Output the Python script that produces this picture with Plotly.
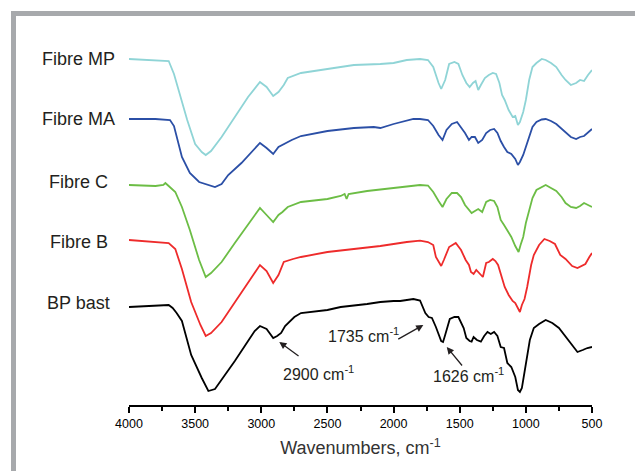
import plotly.graph_objects as go

# Wavenumbers (cm-1) and relative transmittance (arbitrary, offset)
wn_bp = [4000,3850,3700,3670,3640,3600,3530,3450,3400,3350,3300,3200,3100,3050,3010,2960,2910,2880,2850,2820,2750,2700,2500,2400,2200,2100,2000,1950,1850,1800,1760,1735,1710,1680,1640,1626,1610,1575,1540,1510,1470,1450,1425,1410,1395,1370,1340,1315,1290,1265,1240,1215,1190,1165,1140,1110,1080,1060,1045,1030,1010,995,970,940,900,850,800,750,700,650,610,570,535,500]
t_bp = [98,99,100,97,92,84,50,27,14,16,25,44,64,74,79,76,67,69,72,79,88,92,95,98,101,103,104,104,106,104.5,92,88,87,78,64,63,70,86,88,88,77,67,64,63.3,68,65,63.3,69,73,71,73,69,58,57,42,38,28,15,13,17,33,45,65,77,81,85,82,77,68,59,53,55,57,58]

wn_b = [4000,3800,3700,3650,3600,3530,3460,3420,3380,3300,3200,3100,3010,2960,2910,2870,2830,2760,2700,2500,2300,2100,1900,1800,1740,1700,1680,1640,1620,1580,1530,1490,1455,1430,1415,1395,1375,1350,1325,1300,1280,1250,1230,1210,1185,1160,1130,1100,1080,1060,1045,1030,1010,990,960,940,900,860,820,780,740,700,650,610,580,550,520,500]
t_b = [165,163,162,156,136,103,80,69,72,83,103,123,140,134,122,130,143,146,148,153,156,159,163,164.3,163,160,148,139,145,158,162,155,145,140,133,131,135,132,128,142,143,146,144,140,130,118,110,104,102,96,93,100,106,118,140,150,160,166,164,161,150,146,139,137,139,141,148,152]

wn_c = [4000,3800,3740,3725,3700,3650,3600,3540,3470,3420,3380,3300,3200,3100,3010,2960,2910,2870,2840,2800,2700,2500,2400,2370,2355,2340,2200,2000,1850,1800,1740,1700,1660,1630,1600,1560,1520,1490,1460,1430,1410,1385,1360,1330,1300,1270,1240,1215,1190,1165,1140,1110,1080,1055,1040,1020,1000,975,950,920,880,850,810,770,730,700,660,620,590,560,530,500]
t_c = [220,219,220,222,219,213,198,175,145,128,132,143,162,180,197,190,183,190,193,198,203,206,209,211,206,211,214,217,219,220,219.5,213,204,198,206,212,212,208,200,195,192,194,196,193,203,205,204,198,185,180,175,168,159,153,160,168,182,195,207,215,218,220,217,214,208,202,198,197,199,202,200,198]

wn_ma = [4000,3800,3690,3660,3600,3540,3470,3400,3350,3300,3250,3150,3050,3010,2960,2910,2870,2830,2770,2700,2500,2300,2150,2100,2000,1850,1800,1740,1700,1660,1630,1600,1560,1520,1490,1460,1430,1410,1385,1360,1330,1300,1270,1240,1215,1190,1165,1140,1110,1080,1060,1045,1020,1000,975,950,920,880,850,810,770,730,700,660,620,590,560,530,500]
t_ma = [286,286,285,279,248,232,223,220,218,221,230,242,256,262,257,251,258,261,265,269,274,277,278,277,281,286,286,285,279,270,265,275,281,283,278,272,265,268,268,262,265,272,275,276,272,264,258,253,251,246,240,243,250,258,268,278,283,285.5,286,284,281,276,273,268,266,268,269,273,276]

wn_mp = [4000,3800,3700,3660,3620,3560,3500,3450,3420,3380,3300,3200,3100,3010,2960,2910,2870,2830,2800,2700,2500,2300,2100,2000,1900,1800,1740,1700,1660,1640,1610,1580,1540,1510,1480,1450,1425,1400,1380,1360,1340,1310,1280,1250,1225,1200,1180,1160,1130,1100,1080,1060,1045,1020,1000,975,950,920,880,850,810,770,730,700,660,620,590,560,530,500]
t_mp = [346,345,344,331,313,285,261,253,250,254,268,288,308,323,318,309,313,320,327,332,336,340,341,342,345,346,345,338,322,316,325,341,343,341,330,322,318,322,324,315,320,327,330,332,331,322,310,305,295,288,289,280,283,293,305,325,338,342,346,345,342,338,330,325,320,322,325,324,330,335]

series_names = ["Fibre MP", "Fibre MA", "Fibre C", "Fibre B", "BP bast"]
series_colors = ["#8fd4d6", "#2b4fa6", "#6cbd45", "#ee2b2b", "#000000"]
series_x = [wn_mp, wn_ma, wn_c, wn_b, wn_bp]
series_y = [t_mp, t_ma, t_c, t_b, t_bp]
label_y = [346, 286, 223, 163, 102]

FONT = "Arial, Liberation Sans, sans-serif"

fig = go.Figure()
for name, col, xs, ys in zip(series_names, series_colors, series_x, series_y):
    fig.add_trace(go.Scatter(x=xs, y=ys, mode="lines", name=name,
                             line=dict(color=col, width=1.8), showlegend=False))

annotations = []
for name, ly in zip(series_names, label_y):
    annotations.append(dict(x=-0.109, xref="paper", y=ly, yref="y", text=name,
                            showarrow=False, xanchor="center", yanchor="middle",
                            font=dict(family=FONT, size=18, color="#231f20")))

# peak annotations: arrows (head, tail) and texts
arrows = [((2864, 63), (2707, 48)), ((1775, 80), (1976, 65)), ((1598, 58), (1473, 38))]
for (hx, hy), (tx, ty) in arrows:
    annotations.append(dict(x=hx, y=hy, xref="x", yref="y", ax=tx, ay=ty, axref="x", ayref="y",
                            text="", showarrow=True, arrowhead=2, arrowsize=1.1, arrowwidth=1.3,
                            arrowcolor="#231f20"))
texts = [("2900 cm<sup>-1</sup>", 2571, 32), ("1735 cm<sup>-1</sup>", 2231, 70), ("1626 cm<sup>-1</sup>", 1430, 30)]
for t, x, y in texts:
    annotations.append(dict(x=x, y=y, xref="x", yref="y", text=t, showarrow=False,
                            font=dict(family=FONT, size=16, color="#231f20")))

fig.update_layout(
    width=635, height=463,
    margin=dict(l=121, r=51, t=12, b=66),
    paper_bgcolor="white", plot_bgcolor="white",
    annotations=annotations,
    shapes=[dict(type="rect", xref="paper", yref="paper",
                 x0=(13.5 - 129) / 463, x1=(690 - 129) / 463,
                 y0=(405 - 520) / 385, y1=(405 - 13.5) / 385,
                 line=dict(color="#a7a9ac", width=5), fillcolor="rgba(0,0,0,0)", layer="below")],
    xaxis=dict(range=[4000, 500], showgrid=False, zeroline=False, showline=True,
               linecolor="black", linewidth=1.5, ticks="outside", ticklen=6, tickwidth=1.5,
               tickcolor="black", dtick=500, tick0=500,
               minor=dict(ticks="outside", ticklen=4, tickwidth=1.5, tickcolor="black", dtick=250, showgrid=False),
               tickfont=dict(family=FONT, size=12.5, color="black"),
               title=dict(text="Wavenumbers, cm<sup>-1</sup>", standoff=12,
                          font=dict(family=FONT, size=18, color="#333333"))),
    yaxis=dict(range=[0, 385], visible=False),
)

fig.write_html("out.html")
